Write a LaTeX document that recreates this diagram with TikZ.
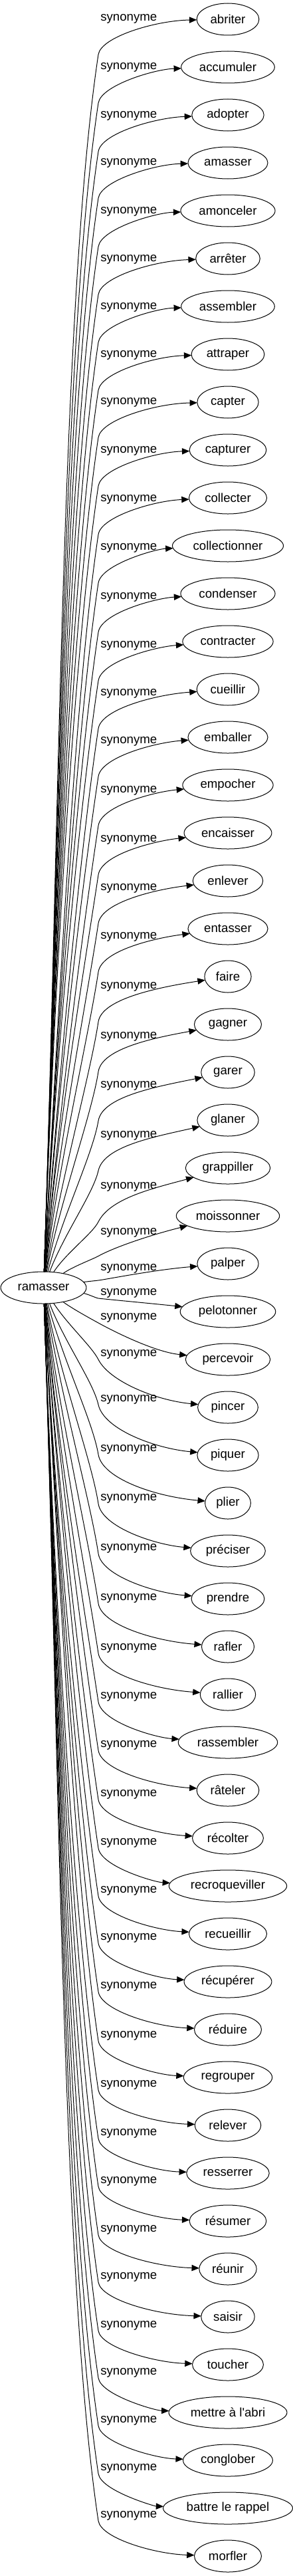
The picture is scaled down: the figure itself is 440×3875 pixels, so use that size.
\documentclass[tikz,border=0pt]{standalone}
\usepackage{fontspec}
\setmainfont{Liberation Sans}
\usetikzlibrary{positioning, arrows.meta, shapes.geometric}

\begin{document}
\begin{tikzpicture}[
  x=0.75pt, y=-0.75pt,
  node distance=18pt,
  word/.style={draw, ellipse, line width=0.75pt, minimum height=36pt, outer sep=0pt,
              inner xsep=5pt, inner ysep=2pt, font=\fontsize{14pt}{16pt}\selectfont},
  rel/.style={anchor=base west, inner sep=0pt, font=\fontsize{14pt}{16pt}\selectfont},
  arr/.style={-{Triangle[length=8.5pt, width=7pt]}, line width=0.75pt}
 ]
\useasboundingbox (0,0) rectangle (440,3875);
\node[word] (ramasser) at (65.5,1937) {ramasser};
\node[word] (abriter) at (343,29) {abriter};
\node[word, below=of abriter]        (accumuler)      {accumuler};
\node[word, below=of accumuler]      (adopter)        {adopter};
\node[word, below=of adopter]        (amasser)        {amasser};
\node[word, below=of amasser]        (amonceler)      {amonceler};
\node[word, below=of amonceler]      (arreter)        {arrêter};
\node[word, below=of arreter]        (assembler)      {assembler};
\node[word, below=of assembler]      (attraper)       {attraper};
\node[word, below=of attraper]       (capter)         {capter};
\node[word, below=of capter]         (capturer)       {capturer};
\node[word, below=of capturer]       (collecter)      {collecter};
\node[word, below=of collecter]      (collectionner)  {collectionner};
\node[word, below=of collectionner]  (condenser)      {condenser};
\node[word, below=of condenser]      (contracter)     {contracter};
\node[word, below=of contracter]     (cueillir)       {cueillir};
\node[word, below=of cueillir]       (emballer)       {emballer};
\node[word, below=of emballer]       (empocher)       {empocher};
\node[word, below=of empocher]       (encaisser)      {encaisser};
\node[word, below=of encaisser]      (enlever)        {enlever};
\node[word, below=of enlever]        (entasser)       {entasser};
\node[word, below=of entasser]       (faire)          {faire};
\node[word, below=of faire]          (gagner)         {gagner};
\node[word, below=of gagner]         (garer)          {garer};
\node[word, below=of garer]          (glaner)         {glaner};
\node[word, below=of glaner]         (grappiller)     {grappiller};
\node[word, below=of grappiller]     (moissonner)     {moissonner};
\node[word, below=of moissonner]     (palper)         {palper};
\node[word, below=of palper]         (pelotonner)     {pelotonner};
\node[word, below=of pelotonner]     (percevoir)      {percevoir};
\node[word, below=of percevoir]      (pincer)         {pincer};
\node[word, below=of pincer]         (piquer)         {piquer};
\node[word, below=of piquer]         (plier)          {plier};
\node[word, below=of plier]          (preciser)       {préciser};
\node[word, below=of preciser]       (prendre)        {prendre};
\node[word, below=of prendre]        (rafler)         {rafler};
\node[word, below=of rafler]         (rallier)        {rallier};
\node[word, below=of rallier]        (rassembler)     {rassembler};
\node[word, below=of rassembler]     (rateler)        {râteler};
\node[word, below=of rateler]        (recolter)       {récolter};
\node[word, below=of recolter]       (recroqueviller) {recroqueviller};
\node[word, below=of recroqueviller] (recueillir)     {recueillir};
\node[word, below=of recueillir]     (recuperer)      {récupérer};
\node[word, below=of recuperer]      (reduire)        {réduire};
\node[word, below=of reduire]        (regrouper)      {regrouper};
\node[word, below=of regrouper]      (relever)        {relever};
\node[word, below=of relever]        (resserrer)      {resserrer};
\node[word, below=of resserrer]      (resumer)        {résumer};
\node[word, below=of resumer]        (reunir)         {réunir};
\node[word, below=of reunir]         (saisir)         {saisir};
\node[word, below=of saisir]         (toucher)        {toucher};
\node[word, below=of toucher]        (mettre)         {mettre à l\textquotesingle abri};
\node[word, below=of mettre]         (conglober)      {conglober};
\node[word, below=of conglober]      (battre)         {battre le rappel};
\node[word, below=of battre]         (morfler)        {morfler};
% one edge per synonym, label y given
\foreach \nd/\ly [count=\i from 0] in {abriter/27, accumuler/100, adopter/173,
    amasser/243, amonceler/316, arreter/388, assembler/460, attraper/532,
    capter/603, capturer/676, collecter/749, collectionner/822, condenser/896,
    contracter/969, cueillir/1041, emballer/1113, empocher/1187, encaisser/1261,
    enlever/1334, entasser/1407, faire/1482, gagner/1557, garer/1631,
    glaner/1706, grappiller/1783, moissonner/1852, palper/1906, pelotonner/1943,
    percevoir/1980, pincer/2035, piquer/2103, plier/2178, preciser/2252,
    prendre/2327, rafler/2402, rallier/2477, rassembler/2550, rateler/2623,
    recolter/2697, recroqueviller/2770, recueillir/2842, recuperer/2913,
    reduire/2986, regrouper/3060, relever/3134, resserrer/3207, resumer/3279,
    reunir/3352, saisir/3423, toucher/3496, mettre/3567, conglober/3639,
    battre/3711, morfler/3782}{
  \pgfmathsetmacro\kk{\i-26.5}
  \pgfmathsetmacro\ak{abs(\kk)}
  \pgfmathsetmacro\sg{\kk<0 ? 1 : -1}
  \pgfmathtruncatemacro\th{\sg*atan(0.4*\ak^1.5)}
  \pgfmathsetmacro\ty{29+72*\i}
  \pgfmathsetmacro\wy{\kk<0 ? \ly+min(55,20+17.5*(\ak-0.5)) : \ly+10}
  \pgfmathsetmacro\slp{0.15+7.8*exp(max(-1.55*(\ak-0.5),-9))}
  \pgfmathsetmacro\nrm{sqrt(1+\slp*\slp)}
  \pgfmathsetmacro\dd{abs(\wy-1937)}
  \pgfmathsetmacro\mm{0.5*abs(\ty-\wy)}
  \pgfmathsetmacro\tip{\kk<0 ? 0.5*(\ly-\ty)+2 : -max(1.5,6-0.25*\ak)}
  \node[rel] (s\i) at (151,\ly+5) {synonyme};
  \draw[arr] (ramasser.\th)
    .. controls +({0.35*\dd*cos(\th)},{-0.35*\dd*sin(\th)})
       and +({-0.2*\dd*\slp/\nrm},{0.2*\dd*\sg/\nrm}) .. (148,\wy)
    .. controls +({\mm*\slp/\nrm},{-\mm*\sg/\nrm}) and +(-110,{2*\tip}) .. (\nd);
}
\end{tikzpicture}
\end{document}
